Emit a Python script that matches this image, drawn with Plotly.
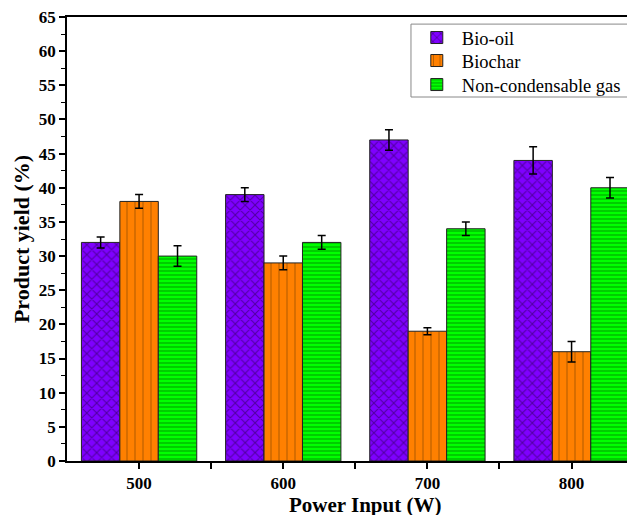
import plotly.graph_objects as go

power = [500, 600, 700, 800]
bio_oil = [32, 39, 47, 44]
bio_oil_err = [0.8, 1.0, 1.5, 2.0]
biochar = [38, 29, 19, 16]
biochar_err = [1.0, 1.0, 0.5, 1.5]
gas = [30, 32, 34, 40]
gas_err = [1.5, 1.0, 1.0, 1.5]

font_family = "Liberation Serif, Times New Roman, serif"

def err(vals):
    return dict(type="data", array=vals, visible=True, color="black", thickness=1.5, width=4)

fig = go.Figure()
fig.add_trace(go.Bar(
    x=power, y=bio_oil, name="Bio-oil", error_y=err(bio_oil_err), legend="legend",
    marker=dict(color="#7F00FF", line=dict(color="#222222", width=1),
                pattern=dict(shape="x", fgcolor="#220044", size=7, solidity=0.28)),
))
fig.add_trace(go.Bar(
    x=power, y=biochar, name="Biochar", error_y=err(biochar_err), legend="legend2",
    marker=dict(color="#FF8000", line=dict(color="#222222", width=1),
                pattern=dict(shape="|", fgcolor="#553000", size=8, solidity=0.12)),
))
fig.add_trace(go.Bar(
    x=power, y=gas, name="Non-condensable gas", error_y=err(gas_err), legend="legend3",
    marker=dict(color="#00FF00", line=dict(color="#222222", width=1),
                pattern=dict(shape="-", fgcolor="#005500", size=4, solidity=0.3)),
))

def leg(y):
    return dict(x=0.6440, y=y, xref="container", yref="paper",
                xanchor="left", yanchor="middle",
                bgcolor="rgba(0,0,0,0)", borderwidth=0,
                font=dict(size=18.5, family=font_family), itemwidth=40)

# page body has an 8px default margin, so offsets are reduced accordingly
fig.update_layout(
    width=627, height=507,
    margin=dict(l=59, r=0, t=9, b=54, autoexpand=False),
    paper_bgcolor="white", plot_bgcolor="white",
    barmode="group", bargap=0.2, bargroupgap=0,
    font=dict(family=font_family, color="black"),
    showlegend=True,
    legend=leg(0.9527), legend2=leg(0.9009), legend3=leg(0.8468),
    shapes=[dict(type="rect", xref="paper", yref="paper", x0=0.6056, x1=1.1,
                 y0=0.8198, y1=0.984, line=dict(color="#888888", width=1),
                 fillcolor="white", layer="above")],
    annotations=[dict(text="<b>Power Input (W)</b>", xref="paper", yref="paper",
                      x=0.5246, y=-0.098, xanchor="center", yanchor="middle",
                      showarrow=False, font=dict(size=21, family=font_family))],
)
fig.update_xaxes(
    range=[450, 844], tickvals=power, ticktext=[str(p) for p in power],
    showline=True, linecolor="black", linewidth=1.5, mirror=True,
    ticks="outside", ticklen=6, tickwidth=1.5, tickcolor="black",
    minor=dict(tickvals=[550, 650, 750], ticks="outside", ticklen=6, tickwidth=1.5, tickcolor="black"),
    showgrid=False, zeroline=False, ticklabeloverflow="allow",
    tickfont=dict(size=17, family=font_family, weight="bold"),
)
fig.update_yaxes(
    range=[0, 65], tickmode="linear", tick0=0, dtick=5,
    showline=True, linecolor="black", linewidth=1.5, mirror=False,
    ticks="outside", ticklen=6, tickwidth=1.5, tickcolor="black",
    minor=dict(dtick=2.5, ticks="outside", ticklen=4, tickwidth=1.2, tickcolor="black"),
    showgrid=False, zeroline=False, ticklabeloverflow="allow",
    tickfont=dict(size=17, family=font_family, weight="bold"),
    title=dict(text="<b>Product yield (%)</b>", font=dict(size=22, family=font_family), standoff=3),
)

fig.write_html("out.html")
